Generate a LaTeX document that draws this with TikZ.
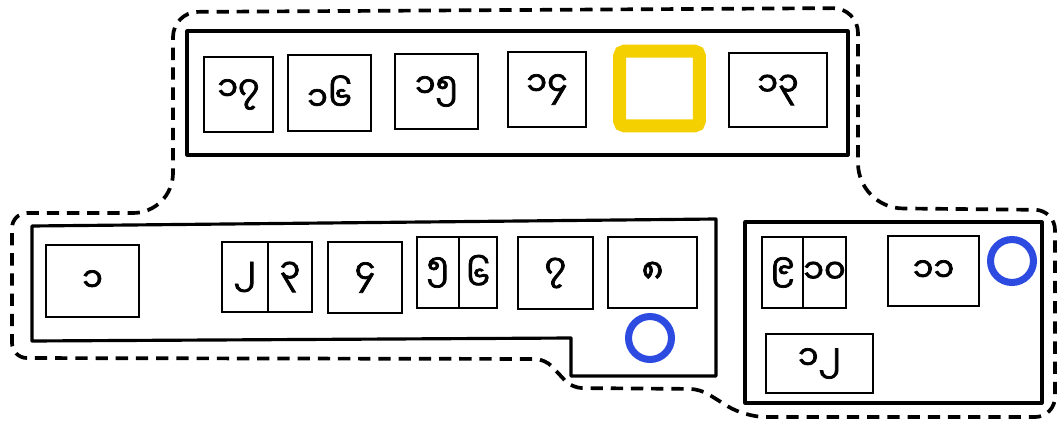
\documentclass[tikz,border=0pt]{standalone}
\usepackage{fontspec}
\newfontfamily\mmfont[Script=Myanmar, FakeBold=2.2]{Noto Sans Myanmar UI}
\usepackage{xcolor}
\definecolor{hiyellow}{RGB}{244,208,0}
\definecolor{ringblue}{RGB}{45,75,225}
\usepackage{tikz}

\begin{document}
\begin{tikzpicture}[
    x=0.02cm, y=-0.02cm,
    every node/.style={font=\mmfont\fontsize{19}{19}\selectfont},
    cell/.style={draw, line width=1.6pt, inner sep=0pt},
    wall/.style={draw, line width=1.8pt, line join=round},
    dashline/.style={draw, line width=2.1pt, dash pattern=on 7pt off 4.5pt},
    hilite/.style={draw=hiyellow, line width=7.4pt, rounded corners=3pt,
                   inner sep=0pt},
    spot/.style={draw=ringblue, circle, line width=4pt, inner sep=0pt,
                 minimum size=0.86cm},
  ]
    \useasboundingbox (0,0) rectangle (1063,426);

    % 外框
    \draw[wall] (187,31) rectangle (848,155);
    \draw[wall] (32,226) -- (716,219) -- (716,376) -- (571,376)
                -- (571,338) -- (32,341) -- cycle;
    \draw[wall] (745,222) rectangle (1042,403);

    % 虚线
    \draw[dashline] (173,100) [rounded corners=0.5cm] -- (173,12) -- (858,8)
        [rounded corners=0.9cm] -- (858,208)
        [rounded corners=0.4cm] -- (1055,210) -- (1055,417) -- (745,417)
        [rounded corners=0.2cm] -- (700,389) -- (572,388) -- (545,359)
        [rounded corners=0.3cm] -- (12,358) -- (12,213)
        [rounded corners=0.8cm] -- (173,213) -- cycle;

    % 顶行
    \node[cell, minimum width=1.38cm, minimum height=1.50cm] (c17) at (238.5,94.5) {၁၇};
    \node[cell, minimum width=1.66cm, minimum height=1.52cm] (c16) at (329.5,93) {၁၆};
    \node[cell, minimum width=1.66cm, minimum height=1.50cm] (c15) at (436.5,91.5) {၁၅};
    \node[cell, minimum width=1.56cm, minimum height=1.50cm] (c14) at (547,89.5) {၁၄};
    \node[hilite, minimum width=1.60cm, minimum height=1.50cm] (blank) at (659.5,88.5) {};
    \node[cell, minimum width=1.96cm, minimum height=1.48cm] (c13) at (778,90) {၁၃};

    % 左下
    \node[cell, minimum width=1.86cm, minimum height=1.44cm] (c1) at (92.5,281) {၁};
    \node[cell, minimum width=0.92cm, minimum height=1.40cm] (c2) at (245,277) {၂};
    \node[cell, minimum width=0.88cm, minimum height=1.40cm] (c3) at (290,277) {၃};
    \node[cell, minimum width=1.48cm, minimum height=1.42cm] (c4) at (365,277.5) {၄};
    \node[cell, minimum width=0.84cm, minimum height=1.42cm] (c5) at (438,272.5) {၅};
    \node[cell, minimum width=0.76cm, minimum height=1.42cm] (c6) at (478,272.5) {၆};
    \node[cell, minimum width=1.50cm, minimum height=1.44cm] (c7) at (555.5,273) {၇};
    \node[cell, minimum width=1.78cm, minimum height=1.42cm] (c8) at (652.5,272.5) {၈};
    \node[spot] (s1) at (650,338) {};

    % 右下
    \node[cell, minimum width=0.82cm, minimum height=1.42cm] (c9) at (782.5,272.5) {၉};
    \node[cell, minimum width=0.86cm, minimum height=1.42cm] (c10) at (824.5,272.5) {၁၀};
    \node[cell, minimum width=1.82cm, minimum height=1.40cm] (c11) at (933.5,271) {၁၁};
    \node[cell, minimum width=2.14cm, minimum height=1.18cm] (c12) at (819.5,363.5) {၁၂};
    \node[spot] (s2) at (1012,261) {};
  \end{tikzpicture}
\end{document}
